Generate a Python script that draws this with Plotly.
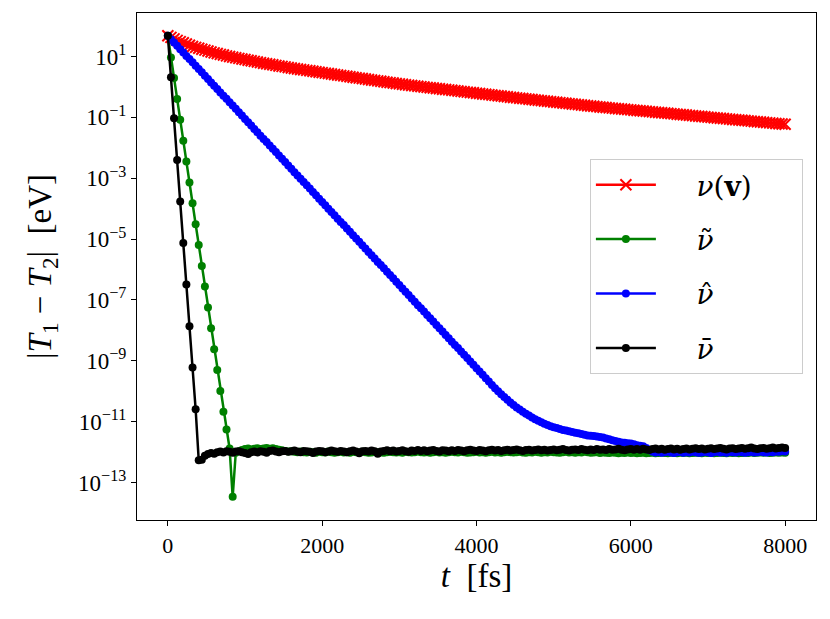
import plotly.graph_objects as go

# time grid of the simulation output (fs), one sample every 40 fs
t_fs = list(range(0, 8001, 40))

# log10 |T1 - T2| [eV], one value per 40 fs sample
nu_v_log = [
    1.68, 1.63, 1.58, 1.53, 1.49, 1.45, 1.41, 1.37, 1.33, 1.30,
    1.27, 1.24, 1.21, 1.18, 1.15, 1.12, 1.10, 1.07, 1.05, 1.02,
    1.00, 0.98, 0.96, 0.94, 0.92, 0.90, 0.88, 0.86, 0.84, 0.82,
    0.80, 0.78, 0.76, 0.745, 0.73, 0.71, 0.69, 0.675, 0.66, 0.64,
    0.62, 0.605, 0.59, 0.575, 0.56, 0.545, 0.53, 0.515, 0.50, 0.485,
    0.47, 0.455, 0.44, 0.425, 0.41, 0.395, 0.38, 0.365, 0.35, 0.335,
    0.32, 0.305, 0.29, 0.275, 0.26, 0.245, 0.23, 0.215, 0.20, 0.185,
    0.17, 0.156, 0.142, 0.128, 0.114, 0.10, 0.087, 0.074, 0.061, 0.048,
    0.035, 0.023, 0.011, -0.001, -0.013, -0.025, -0.037, -0.049, -0.061, -0.073,
    -0.085, -0.097, -0.109, -0.121, -0.133, -0.145, -0.157, -0.169, -0.181, -0.193,
    -0.205, -0.217, -0.229, -0.241, -0.253, -0.265, -0.277, -0.289, -0.30, -0.312,
    -0.324, -0.336, -0.347, -0.358, -0.37, -0.381, -0.393, -0.404, -0.415, -0.427,
    -0.438, -0.449, -0.46, -0.472, -0.483, -0.494, -0.505, -0.516, -0.527, -0.538,
    -0.549, -0.56, -0.571, -0.582, -0.593, -0.604, -0.615, -0.626, -0.636, -0.647,
    -0.658, -0.668, -0.677, -0.687, -0.696, -0.706, -0.715, -0.725, -0.734, -0.744,
    -0.753, -0.763, -0.772, -0.782, -0.791, -0.801, -0.81, -0.82, -0.829, -0.839,
    -0.848, -0.858, -0.867, -0.877, -0.886, -0.896, -0.905, -0.915, -0.924, -0.934,
    -0.943, -0.953, -0.962, -0.972, -0.981, -0.991, -1.0, -1.01, -1.019, -1.029,
    -1.038, -1.048, -1.057, -1.067, -1.076, -1.086, -1.095, -1.105, -1.114, -1.124,
    -1.133, -1.143, -1.152, -1.162, -1.171, -1.181, -1.19, -1.2, -1.209, -1.219,
    -1.228,
]

nu_tilde_log = [
    1.68, 0.97, 0.29, -0.40, -1.08, -1.77, -2.45, -3.14, -3.82, -4.51,
    -5.19, -5.88, -6.56, -7.25, -7.93, -8.62, -9.30, -9.99, -10.67, -11.26,
    -11.88, -13.47, -12.02,
    -11.97, -11.93, -11.90, -11.88, -11.91, -11.89, -11.87, -11.90, -11.88, -11.86,
    -11.89, -11.87, -11.90, -11.92, -11.94, -11.96, -11.98, -11.97, -11.99, -12.0,
    -11.98, -12.0, -12.01, -11.99, -12.0, -12.02, -11.99, -12.0, -12.01, -11.98,
    -12.0, -12.02, -12.0, -11.99, -12.01, -12.0, -12.02, -11.99, -12.0, -12.01,
    -11.99, -12.0, -12.02, -12.01, -11.99, -12.0, -12.01, -12.02, -12.0, -11.99,
    -12.0, -12.01, -12.0, -12.02, -11.99, -12.0, -12.01, -12.0, -11.98, -12.0,
    -12.01, -12.0, -12.02, -12.0, -11.99, -12.01, -12.0, -12.02, -12.0, -11.99,
    -12.0, -12.01, -11.99, -12.0, -12.02, -12.01, -12.0, -11.99, -12.01, -12.0,
    -12.02, -12.0, -11.99, -12.01, -12.0, -12.02, -12.0, -11.99, -12.0, -12.01,
    -12.0, -11.99, -12.01, -12.02, -12.0, -12.01, -11.99, -12.0, -12.02, -12.0,
    -12.01, -11.99, -12.0, -12.01, -12.02, -12.0, -11.99, -12.01, -12.0, -12.02,
    -12.0, -12.01, -11.99, -12.0, -12.02, -12.01, -12.0, -12.03, -12.01, -12.02,
    -12.03, -12.01, -12.02, -12.04, -12.02, -12.03, -12.01, -12.03, -12.02, -12.04,
    -12.03, -12.02, -12.04, -12.03, -12.02, -12.04, -12.03, -12.02, -12.03, -12.04,
    -12.02, -12.03, -12.04, -12.02, -12.03, -12.02, -12.04, -12.03, -12.02, -12.03,
    -12.04, -12.02, -12.03, -12.02, -12.04, -12.03, -12.02, -12.03, -12.04, -12.02,
    -12.03, -12.02, -12.04, -12.03, -12.02, -12.03, -12.01, -12.03, -12.02, -12.01,
    -12.02, -12.01, -12.03, -12.02, -12.01, -12.02, -12.01, -12.02,
]

nu_hat_log = [
    1.68, 1.57, 1.46, 1.35, 1.24, 1.13, 1.02, 0.92, 0.81, 0.70,
    0.59, 0.48, 0.37, 0.26, 0.15, 0.04, -0.07, -0.18, -0.29, -0.39,
    -0.50, -0.61, -0.72, -0.83, -0.94, -1.05, -1.16, -1.27, -1.38, -1.49,
    -1.60, -1.71, -1.81, -1.92, -2.03, -2.14, -2.25, -2.36, -2.47, -2.58,
    -2.69, -2.80, -2.91, -3.02, -3.12, -3.23, -3.34, -3.45, -3.56, -3.67,
    -3.78, -3.89, -4.00, -4.11, -4.22, -4.33, -4.44, -4.54, -4.65, -4.76,
    -4.87, -4.98, -5.09, -5.20, -5.31, -5.42, -5.53, -5.64, -5.75, -5.85,
    -5.96, -6.07, -6.18, -6.29, -6.40, -6.51, -6.62, -6.73, -6.84, -6.95,
    -7.06, -7.17, -7.27, -7.38, -7.49, -7.60, -7.71, -7.82, -7.93, -8.04,
    -8.15, -8.26, -8.37, -8.48, -8.58, -8.69, -8.80, -8.91, -9.02, -9.13,
    -9.24, -9.35, -9.46, -9.57, -9.68, -9.79, -9.90, -10.00, -10.10, -10.19,
    -10.28,
    -10.37, -10.45, -10.53, -10.60, -10.67, -10.74, -10.80, -10.86, -10.92, -10.97,
    -11.02, -11.07, -11.11, -11.15, -11.18, -11.21, -11.24, -11.27, -11.29, -11.31,
    -11.34, -11.36, -11.38, -11.40, -11.43, -11.45, -11.46, -11.47, -11.49, -11.50,
    -11.52, -11.55, -11.58, -11.61, -11.63, -11.66, -11.68, -11.69, -11.71, -11.72,
    -11.74, -11.77, -11.79, -11.81, -11.86, -11.93, -11.98,
    -12.01, -11.99, -12.02, -12.00, -11.98, -12.01, -12.03, -12.00, -11.99, -12.02,
    -12.00, -12.01, -11.98, -12.00, -12.02, -12.01, -11.99, -12.00, -12.03, -12.00,
    -11.98, -12.01, -12.00, -12.02, -11.99, -12.00, -12.01, -11.98, -12.00, -12.02,
    -12.00, -11.99, -12.01, -12.00, -11.98, -12.00, -12.01, -11.99, -12.00, -11.98,
    -11.99, -11.97, -11.98,
]

nu_bar_log = [
    1.68, 0.32, -1.03, -2.40, -3.76, -5.13, -6.49, -7.86, -9.22, -10.59,
    -12.27, -12.25,
    -12.12, -12.06, -12.03, -12.05, -12.00, -11.98, -12.01, -11.97, -11.99, -12.02,
    -11.98, -11.97, -12.00, -12.03, -12.06, -12.00, -11.98, -12.01, -11.97, -11.99,
    -12.02, -11.96, -11.95, -11.98, -12.00, -11.97, -11.96, -11.99, -11.97, -11.95,
    -11.98, -12.00, -11.96, -11.97, -11.99, -12.03, -11.98, -11.96, -11.97, -12.00,
    -11.98, -11.95, -11.97, -11.99, -11.96, -11.98, -12.00, -11.97, -11.95, -11.98,
    -12.04, -11.97, -11.96, -11.98, -11.95, -11.97, -12.05, -11.98, -11.96, -11.94,
    -11.97, -11.95, -11.98, -11.96, -11.94, -11.97, -11.99, -11.95, -11.96, -11.93,
    -11.96, -11.94, -11.97, -11.95, -11.93, -11.96, -11.98, -11.94, -11.95, -11.97,
    -11.94, -11.96, -11.93, -11.95, -11.97, -11.94, -11.92, -11.95, -11.96, -11.93,
    -11.95, -11.97, -11.94, -11.92, -11.95, -11.93, -11.96, -11.94, -11.92, -11.95,
    -11.93, -11.91, -11.94, -11.96, -11.93, -11.92, -11.95, -11.93, -11.91, -11.94,
    -11.92, -11.95, -11.93, -11.91, -11.94, -11.92, -11.90, -11.93, -11.95, -11.92,
    -11.91, -11.93, -11.90, -11.92, -11.94, -11.91, -11.93, -11.90, -11.92, -11.91,
    -11.93, -11.90, -11.92, -11.91, -11.89, -11.92, -11.94, -11.91, -11.90, -11.92,
    -11.90, -11.92, -11.89, -11.91, -11.93, -11.90, -11.88, -11.91, -11.89, -11.92,
    -11.90, -11.88, -11.91, -11.89, -11.92, -11.90, -11.88, -11.91, -11.89, -11.87,
    -11.90, -11.88, -11.91, -11.89, -11.87, -11.90, -11.88, -11.86, -11.89, -11.91,
    -11.88, -11.87, -11.90, -11.88, -11.86, -11.89, -11.87, -11.85, -11.88, -11.90,
    -11.87, -11.86, -11.89, -11.87, -11.85, -11.88, -11.86, -11.85, -11.86,
]

y_tick_exp = [1, -1, -3, -5, -7, -9, -11, -13]
x_tick_vals = [0, 2000, 4000, 6000, 8000]

NB = "\u00a0"
LEAD = NB * 4
series = [
    (LEAD + "<i>ν</i>(<b>v</b>)" + NB * 5, nu_v_log, "#ff0000", "x-thin", 11, 2.0),
    (LEAD + "<i>ν</i>\u0303", nu_tilde_log, "#008000", "circle", 8, 0),
    (LEAD + "<i>ν</i>\u0302", nu_hat_log, "#0000ff", "circle", 8, 0),
    (LEAD + "<i>ν</i>\u0304", nu_bar_log, "#000000", "circle", 8, 0),
]

FONT = "DejaVu Serif"
TICK_FONT = "Liberation Serif"

fig = go.Figure()
for name, vals, color, symbol, size, mlw in series:
    fig.add_trace(go.Scatter(
        x=t_fs[:len(vals)],
        y=[10 ** v for v in vals],
        mode="lines+markers",
        name=name,
        legendgroup=name,
        line=dict(color=color, width=2.5),
        marker=dict(symbol=symbol, size=size, color=color,
                    line=dict(color=color, width=mlw)),
    ))

fig.update_xaxes(
    range=[-400, 8400], tickvals=x_tick_vals,
    showline=True, mirror=True, linecolor="black", linewidth=1.3,
    ticks="outside", ticklen=5, tickcolor="black", showgrid=False, zeroline=False,
    tickfont=dict(size=22, family=TICK_FONT, color="black"),
    title=dict(text="<i>t</i>  [fs]", font=dict(size=33, family=TICK_FONT, color="black"),
               standoff=4),
)
fig.update_yaxes(
    type="log", range=[-14.23, 2.43],
    tickvals=[10 ** e for e in y_tick_exp],
    ticktext=["10<sup>%s</sup>" % str(e).replace("-", "−") for e in y_tick_exp],
    showline=True, mirror=True, linecolor="black", linewidth=1.3,
    ticks="outside", ticklen=5, tickcolor="black", showgrid=False, zeroline=False,
    tickfont=dict(size=23, family=TICK_FONT, color="black"),
    title=dict(text="|<i>T</i><sub>1</sub> − <i>T</i><sub>2</sub>|  [eV]",
               font=dict(size=33, family=TICK_FONT, color="black"), standoff=16),
)
# the page body adds an 8 px offset, so the figure is made 8 px smaller
fig.update_layout(
    width=822, height=611,
    margin=dict(l=129, r=14, t=5, b=99),
    plot_bgcolor="white", paper_bgcolor="white",
    font=dict(family=FONT, color="black"),
    legend=dict(
        x=0.667, y=0.712, xanchor="left", yanchor="top",
        bgcolor="rgba(255,255,255,0.85)", bordercolor="#cccccc", borderwidth=1,
        font=dict(size=28, family=FONT, color="black"),
        tracegroupgap=15, itemwidth=60,
    ),
)
fig.write_html("out.html")
